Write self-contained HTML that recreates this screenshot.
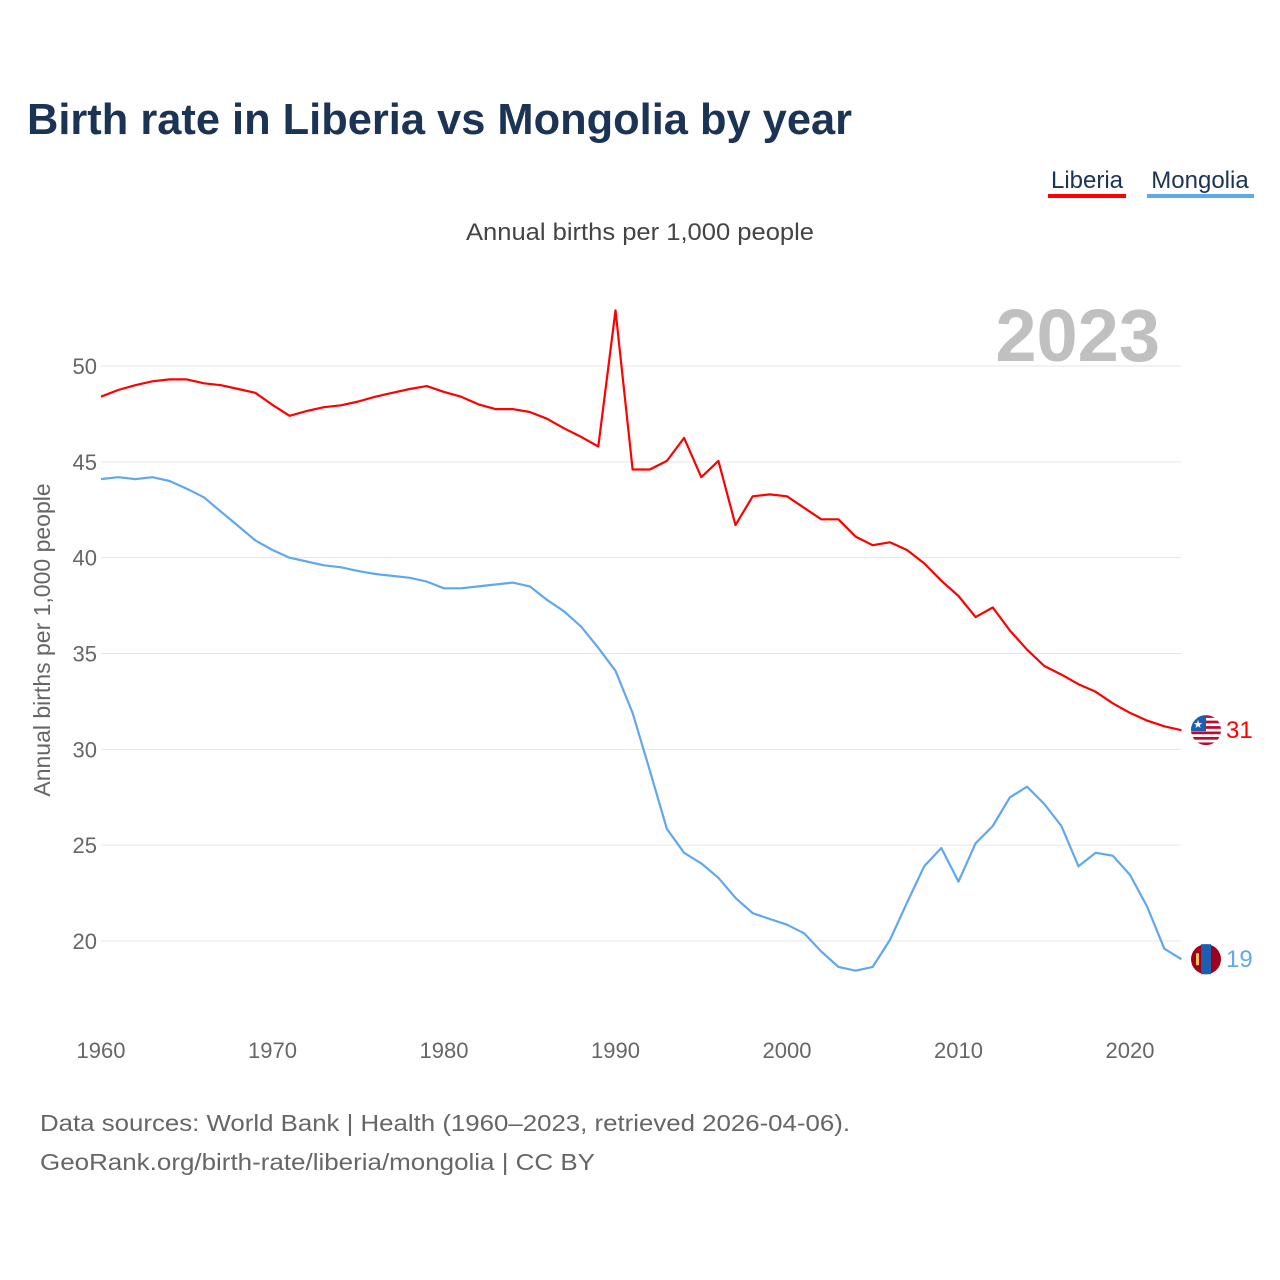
<!DOCTYPE html>
<html><head><meta charset="utf-8">
<style>
body{margin:0;background:#fff;font-family:"Liberation Sans",sans-serif;}
#wrap{position:relative;width:1280px;height:1280px;overflow:hidden;}
</style></head>
<body>
<div id="wrap">
<svg id="chart" width="1280" height="1280">
<text x="27" y="134" font-size="44" font-weight="bold" fill="#1b3354" textLength="825" lengthAdjust="spacingAndGlyphs">Birth rate in Liberia vs Mongolia by year</text>
<g>
<text x="1087" y="188" font-size="24" fill="#1b3354" text-anchor="middle">Liberia</text>
<rect x="1048" y="194" width="78" height="4" fill="#ff0000"/></g>
<g>
<text x="1200" y="188" font-size="24" fill="#1b3354" text-anchor="middle">Mongolia</text>
<rect x="1147" y="194" width="107" height="4" fill="#60a8ee"/></g>
<text x="466" y="240" font-size="24" fill="#444" textLength="348" lengthAdjust="spacingAndGlyphs">Annual births per 1,000 people</text>
<text x="1160" y="361" font-size="74" font-weight="bold" fill="#c0c0c0" text-anchor="end">2023</text>
<text transform="translate(50,640) rotate(-90)" font-size="23" fill="#666" text-anchor="middle">Annual births per 1,000 people</text>
<g id="grid"></g><g id="series"></g><g id="ends"></g>
<text x="40" y="1131" font-size="23" fill="#666" textLength="810" lengthAdjust="spacingAndGlyphs">Data sources: World Bank | Health (1960–2023, retrieved 2026-04-06).</text>
<text x="40" y="1170" font-size="23" fill="#666" textLength="555" lengthAdjust="spacingAndGlyphs">GeoRank.org/birth-rate/liberia/mongolia | CC BY</text>
</svg>
</div>
<script>
const years=[];for(let y=1960;y<=2023;y++)years.push(y);
const liberia=[48.4,48.75,49.0,49.2,49.3,49.3,49.1,49.0,48.8,48.6,47.97,47.4,47.65,47.85,47.95,48.15,48.4,48.6,48.8,48.95,48.65,48.4,48.0,47.75,47.75,47.6,47.25,46.75,46.3,45.8,52.9,44.6,44.6,45.05,46.25,44.2,45.05,41.7,43.2,43.3,43.2,42.6,42.0,42.0,41.1,40.65,40.8,40.4,39.7,38.8,38.0,36.9,37.4,36.2,35.2,34.35,33.9,33.4,33.0,32.4,31.9,31.5,31.2,31.0];
const mongolia=[44.1,44.2,44.1,44.2,44.0,43.6,43.15,42.4,41.65,40.9,40.4,40.0,39.8,39.6,39.5,39.3,39.15,39.05,38.95,38.75,38.4,38.4,38.5,38.6,38.7,38.5,37.8,37.2,36.4,35.3,34.1,31.9,28.9,25.85,24.6,24.05,23.3,22.25,21.45,21.15,20.85,20.4,19.45,18.65,18.45,18.65,20.05,22.0,23.9,24.85,23.1,25.1,26.0,27.5,28.05,27.15,26.0,23.9,24.6,24.45,23.45,21.8,19.6,19.05];
const yTicks=[20,25,30,35,40,45,50];
const xTicks=[1960,1970,1980,1990,2000,2010,2020];
const endLabels=["31","19"];
const NS="http://www.w3.org/2000/svg";
const X=v=>101+(v-1960)*(1029/60);
const Y=v=>366+(50-v)*(575/30);
function el(t,a,p){const e=document.createElementNS(NS,t);for(const k in a)e.setAttribute(k,a[k]);p.appendChild(e);return e;}
const grid=document.getElementById('grid');
yTicks.forEach(t=>{
 const l=el('line',{x1:101,x2:1181,y1:Y(t),y2:Y(t),stroke:'#e6e6e6','stroke-width':1},grid);
 
 
 const tx=el('text',{x:97,y:Y(t)+8,'font-size':22,fill:'#666','text-anchor':'end'},grid);tx.textContent=t;
 
 
});
xTicks.forEach(t=>{
 const tx=el('text',{x:X(t),y:1058,'font-size':22,fill:'#666','text-anchor':'middle'},grid);tx.textContent=t;
 
 
});
const s=document.getElementById('series');
[[liberia,'#ff0000','liberia'],[mongolia,'#60a8ee','mongolia']].forEach(([d,c,n])=>{
 const p=el('path',{d:d.map((v,i)=>(i?'L':'M')+X(years[i]).toFixed(1)+','+Y(v).toFixed(1)).join(''),fill:'none',stroke:c,'stroke-width':2.2,'stroke-linejoin':'round'},s);
 
 
});
const e=document.getElementById('ends');
const ly=Y(liberia[liberia.length-1]), my=Y(mongolia[mongolia.length-1]);
const lf=el('g',{},e);


const cp=el('clipPath',{id:'c1'},lf);
el('circle',{cx:1206,cy:ly,r:15},cp);
const lg=el('g',{'clip-path':'url(#c1)'},lf);
for(let i=0;i<11;i++)el('rect',{x:1190,y:ly-15+i*30/11,width:32,height:30/11+0.2,fill:i%2?'#fff':'#bf0a30'},lg);
el('rect',{x:1190,y:ly-15,width:16,height:16,fill:'#1c5fb0'},lg);
const st=el('text',{x:1198,y:ly-2,'font-size':11,fill:'#fff','text-anchor':'middle'},lg);st.textContent='★';
const mf=el('g',{},e);


el('circle',{cx:1206,cy:my,r:15,fill:'#a0001c'},mf);
el('rect',{x:1201,y:my-15,width:10,height:30,fill:'#1c5fb0'},mf);
el('rect',{x:1196,y:my-6,width:3,height:12,fill:'#f2c14e'},mf);
[[ly,'#ff0000',0],[my,'#60a8ee',1]].forEach(([yy,c,i])=>{
 const t=el('text',{x:1226,y:yy+8,'font-size':24,fill:c},e);t.textContent=endLabels[i];
 
 
});
</script>
</body></html>
